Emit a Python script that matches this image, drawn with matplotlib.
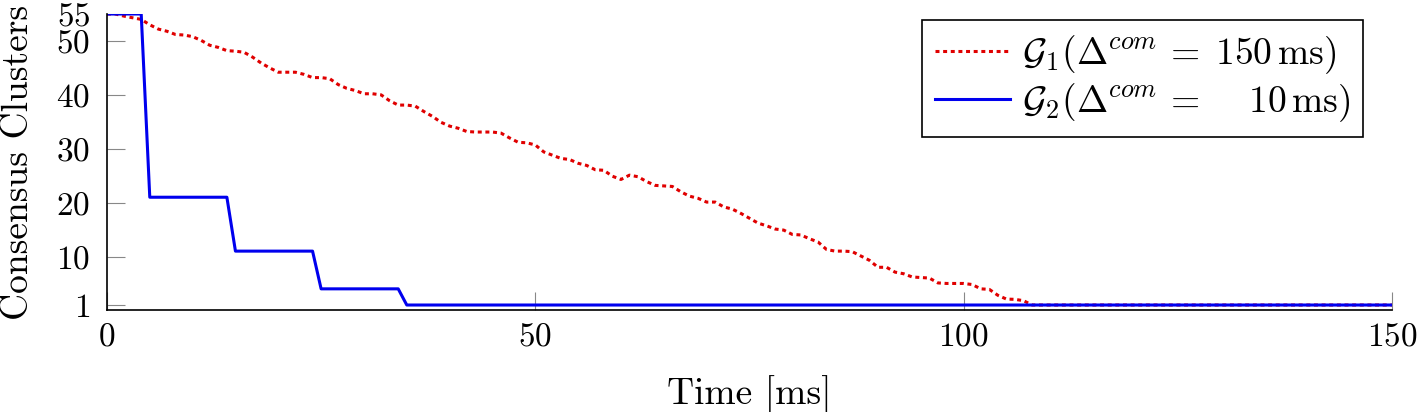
"""
Consensus clusters over time for two communication delays.
"""
import matplotlib
matplotlib.use('Agg')
import matplotlib.pyplot as plt

# G1 (Delta_com = 150 ms), one value per ms until it reaches 1
time_g1 = list(range(0, 109)) + [150]
clusters_g1 = [
    55, 55, 54.6, 54.3, 54, 53, 52.2, 51.8, 51.2, 51.1,
    50.8, 50.1, 49.2, 48.8, 48.2, 48.1, 47.9, 47, 45.9, 45,
    44.2, 44.2, 44.2, 43.8, 43.2, 43.2, 43, 41.9, 41.2, 40.8,
    40.2, 40.2, 40, 38.9, 38.1, 38.1, 37.9, 36.9, 36, 34.9,
    34.2, 33.8, 33.2, 33.1, 33.1, 33.1, 32.9, 32, 31.2, 31.1,
    30.7, 29.4, 28.8, 28.2, 28, 27.3, 26.9, 26.1, 26, 24.9,
    24.3, 25.1, 24.8, 23.9, 23.2, 23.1, 23, 22, 21.2, 20.8,
    20.1, 20.1, 19.2, 18.8, 18, 17.1, 16.2, 15.7, 15.1, 14.9,
    14.1, 14, 13.3, 12.7, 11.3, 11, 11, 10.9, 10.1, 9.3,
    8, 8, 7.1, 6.8, 6.2, 6.1, 6, 5.1, 5, 5,
    5, 4.8, 4, 3.9, 2.8, 2.1, 2.05, 1.8, 1,
    1,
]

# G2 (Delta_com = 10 ms)
time_g2 = [0, 4, 5, 14, 15, 24, 25, 34, 35, 150]
clusters_g2 = [55, 55, 21, 21, 11, 11, 4, 4, 1, 1]

x_ticks = [0, 50, 100, 150]
y_ticks = [1, 10, 20, 30, 40, 50, 55]

labels = [
    r'$\mathcal{G}_1(\Delta^{com}\,=\;150\,\mathrm{ms})$',
    r'$\mathcal{G}_2(\Delta^{com}\,=\;\ \ \ 10\,\mathrm{ms})$',
]

plt.rcParams['font.family'] = 'serif'
plt.rcParams['font.serif'] = ['cmr10']
plt.rcParams['mathtext.fontset'] = 'cm'
plt.rcParams['axes.formatter.use_mathtext'] = True

fs = 27        # labels and legend
fs_tick = 24   # tick labels are a bit smaller

fig = plt.figure(figsize=(14.24, 4.12), dpi=100)
ax = fig.add_axes([0.0751, 0.2466, 0.9024, 0.7194])

ax.plot(time_g1, clusters_g1, color='#e00000', linewidth=2.2,
        linestyle=(0, (1.3, 1.2)), label=labels[0])
ax.plot(time_g2, clusters_g2, color='#0000ee', linewidth=2.2,
        label=labels[1])

ax.set_xlim(0, 150)
ax.set_ylim(0, 55)
ax.set_xticks(x_ticks)
ax.set_yticks(y_ticks)
ax.tick_params(direction='in', length=13, width=0.8, color='#888888',
               labelsize=fs_tick)
ax.tick_params(axis='y', pad=12)
ax.tick_params(axis='x', pad=9)

for side in ['top', 'right']:
    ax.spines[side].set_visible(False)
for side in ['left', 'bottom']:
    ax.spines[side].set_linewidth(1.2)

ax.set_xlabel('Time [ms]', fontsize=fs, labelpad=17)
ax.set_ylabel('Consensus Clusters', fontsize=fs, labelpad=15)

leg = ax.legend(loc='upper right', bbox_to_anchor=(0.9774, 0.98),
                borderaxespad=0, fancybox=False, edgecolor='black',
                framealpha=1, handlelength=2.0, handletextpad=0.3,
                fontsize=fs, labelspacing=0.15, borderpad=0.35)
leg.get_frame().set_linewidth(1.2)

plt.savefig('out.png', dpi=100)
plt.close()
